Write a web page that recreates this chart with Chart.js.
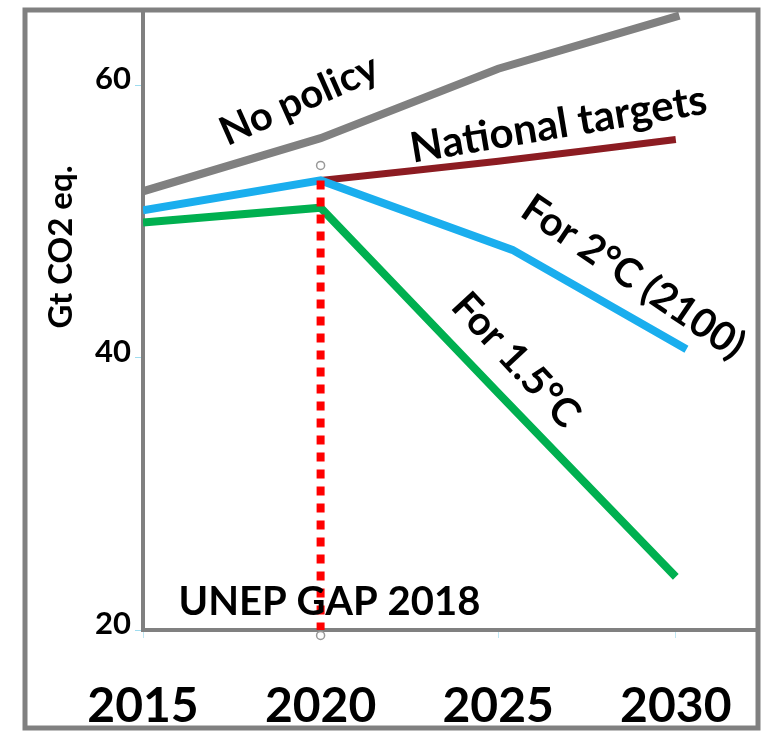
<!DOCTYPE html>
<html>
<head>
<meta charset="utf-8">
<script src="https://cdn.jsdelivr.net/npm/chart.js@4/dist/chart.umd.min.js"></script>
<style>
  body { margin: 0; background: #fff; }
  canvas { display: block; }
</style>
</head>
<body>
<canvas id="gapChart" width="763" height="731"></canvas>
<script>
// Emission pathways, Gt CO2 eq.
const years = [2015, 2020, 2025, 2030];
const yTicks = [20, 40, 60];

const noPolicyYears = [2015, 2020, 2025, 2030.1];
const noPolicy = [52.2, 56.1, 61.2, 65.1];

const nationalYears = [2020, 2025, 2030];
const national = [53.0, 54.4, 56.0];

const twoDegYears = [2015, 2020, 2025.4, 2030.3];
const twoDeg = [50.8, 53.0, 47.9, 40.6];

const onePointFiveYears = [2015, 2020, 2025, 2030];
const onePointFive = [49.9, 51.0, 37.4, 23.9];

const gapYears = [2020, 2020];
const gapValues = [53.0, 20];

const handleYears = [2020, 2020];
const handleValues = [54.1, 19.6];

// text labels drawn on the plot
const labels = [
    { text: 'No policy', x: 2019.4, y: 58.9, angle: -24, size: 40 },
    { text: 'National targets', x: 2026.7, y: 57.1, angle: -9.5, size: 42 },
    { text: 'For 2°C (2100)', x: 2028.8, y: 45.9, angle: 34, size: 40 },
    { text: 'For 1.5°C', x: 2025.5, y: 39.8, angle: 47, size: 40 },
    { text: 'UNEP GAP 2018', x: 2020.25, y: 22.05, angle: 0, size: 40 }
];

const pts = (xs, ys) => xs.map((x, i) => ({ x: x, y: ys[i] }));

const framePlugin = {
    id: 'frame',
    beforeDraw(chart) {
        const ctx = chart.ctx;
        ctx.save();
        ctx.fillStyle = '#fff';
        ctx.fillRect(0, 0, chart.width, chart.height);
        ctx.restore();
    },
    afterDraw(chart) {
        const ctx = chart.ctx;
        ctx.save();
        ctx.strokeStyle = '#808080';
        ctx.lineWidth = 5;
        ctx.strokeRect(25, 10, 733, 718);

        // y axis title
        ctx.translate(61, 247);
        ctx.rotate(-Math.PI / 2);
        ctx.fillStyle = '#000';
        ctx.font = 'bold 33px Lato';
        ctx.textAlign = 'center';
        ctx.textBaseline = 'middle';
        ctx.fillText('Gt CO2 eq.', 0, 0);
        ctx.restore();
    }
};

const labelPlugin = {
    id: 'curveLabels',
    afterDatasetsDraw(chart) {
        const ctx = chart.ctx;
        const xs = chart.scales.x;
        const ys = chart.scales.y;
        labels.forEach(l => {
            ctx.save();
            ctx.translate(xs.getPixelForValue(l.x), ys.getPixelForValue(l.y));
            ctx.rotate(l.angle * Math.PI / 180);
            ctx.font = 'bold ' + l.size + 'px Lato';
            ctx.fillStyle = '#000';
            ctx.textAlign = 'center';
            ctx.textBaseline = 'middle';
            ctx.fillText(l.text, 0, 0);
            ctx.restore();
        });
    }
};

const lineStyle = {
    borderWidth: 8,
    pointRadius: 0,
    tension: 0,
    fill: false
};

new Chart(document.getElementById('gapChart'), {
    type: 'line',
    data: {
        datasets: [
            { label: 'UNEP GAP 2018', data: pts(gapYears, gapValues), borderColor: '#ff0000', borderWidth: 8, borderDash: [9, 8], pointRadius: 0, order: 0 },
            { label: 'handles', data: pts(handleYears, handleValues), showLine: false, pointRadius: 4, pointBackgroundColor: '#fff', pointBorderColor: '#999', pointBorderWidth: 1.5, clip: false, order: 1 },
            { label: 'For 1.5°C', data: pts(onePointFiveYears, onePointFive), borderColor: '#00b050', ...lineStyle, order: 2 },
            { label: 'For 2°C (2100)', data: pts(twoDegYears, twoDeg), borderColor: '#1aaeee', ...lineStyle, order: 3 },
            { label: 'National targets', data: pts(nationalYears, national), borderColor: '#8c1c22', ...lineStyle, borderWidth: 7, tension: 0.3, order: 4 },
            { label: 'No policy', data: pts(noPolicyYears, noPolicy), borderColor: '#808080', ...lineStyle, order: 5 }
        ]
    },
    options: {
        responsive: false,
        animation: false,
        layout: { padding: { left: 0, top: 12, right: 4, bottom: 0 } },
        plugins: {
            legend: { display: false },
            tooltip: { enabled: false }
        },
        scales: {
            x: {
                type: 'linear',
                min: 2015,
                max: 2032.3,
                afterBuildTicks: scale => { scale.ticks = years.map(v => ({ value: v })); },
                afterFit: scale => {
                    scale.height = 101;
                    scale.paddingLeft = 0;
                    scale.paddingRight = 0;
                },
                border: { color: '#808080', width: 4 },
                grid: { drawOnChartArea: false, tickLength: 8, color: '#bfe6f3', lineWidth: 1 },
                ticks: {
                    color: '#000',
                    font: { family: 'Lato', size: 48, weight: 'bold' },
                    padding: 40,
                    maxRotation: 0,
                    callback: v => String(v)
                }
            },
            y: {
                min: 20,
                max: 65.36,
                afterBuildTicks: scale => { scale.ticks = yTicks.map(v => ({ value: v })); },
                afterFit: scale => {
                    scale.width = 143;
                    scale.paddingTop = 0;
                    scale.paddingBottom = 0;
                },
                border: { color: '#808080', width: 4 },
                grid: { drawOnChartArea: false, tickLength: 8, color: '#9fdcef', lineWidth: 1 },
                ticks: {
                    color: '#000',
                    font: { family: 'Lato', size: 31, weight: 'bold' },
                    padding: 4,
                    labelOffset: -6
                }
            }
        }
    },
    plugins: [framePlugin, labelPlugin]
});
</script>
</body>
</html>
